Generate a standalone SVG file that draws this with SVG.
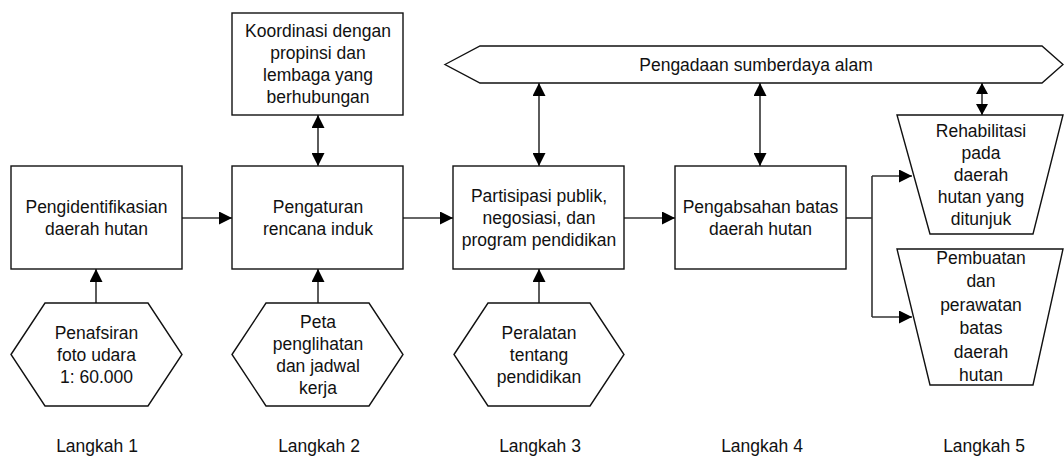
<svg xmlns="http://www.w3.org/2000/svg" width="1064" height="467" viewBox="0 0 1064 467">
<style>
.s{fill:#fff;stroke:#111;stroke-width:1.4}
.t{font-family:"Liberation Sans",Arial,sans-serif;font-size:17.5px;fill:#111;text-anchor:middle}
.c{fill:none;stroke:#333;stroke-width:1.6}
</style>
<defs>
<marker id="a" markerUnits="userSpaceOnUse" markerWidth="14" markerHeight="13" refX="13" refY="6.5" orient="auto-start-reverse">
<path d="M0,0 L13,6.5 L0,13 z" fill="#000"/>
</marker>
<marker id="b" markerUnits="userSpaceOnUse" markerWidth="12" markerHeight="12" refX="11" refY="6" orient="auto-start-reverse">
<path d="M0,0 L11,6 L0,12 z" fill="#000"/>
</marker>
</defs>
<rect width="1064" height="467" fill="#fff"/>
<g id="connectors">
<line class="c" x1="182" y1="218" x2="232" y2="218" marker-end="url(#a)"/>
<line class="c" x1="403" y1="218" x2="453" y2="218" marker-end="url(#a)"/>
<line class="c" x1="624" y1="218" x2="675" y2="218" marker-end="url(#a)"/>
<polyline class="c" points="846,218 872,218"/>
<polyline class="c" points="872,176 872,317"/>
<line class="c" x1="872" y1="176" x2="912" y2="176" marker-end="url(#a)"/>
<line class="c" x1="872" y1="317" x2="912" y2="317" marker-end="url(#a)"/>
<line class="c" x1="96" y1="303" x2="96" y2="269" marker-end="url(#a)"/>
<line class="c" x1="318" y1="303" x2="318" y2="269" marker-end="url(#a)"/>
<line class="c" x1="539" y1="303" x2="539" y2="269" marker-end="url(#a)"/>
<line class="c" x1="318" y1="115" x2="318" y2="166" marker-start="url(#a)" marker-end="url(#a)"/>
<line class="c" x1="539" y1="83" x2="539" y2="166" marker-start="url(#a)" marker-end="url(#a)"/>
<line class="c" x1="760" y1="83" x2="760" y2="166" marker-start="url(#a)" marker-end="url(#a)"/>
<line class="c" x1="982" y1="83" x2="982" y2="115" marker-start="url(#b)" marker-end="url(#b)"/>
</g>
<g id="banner">
<polygon class="s" points="445,64.5 480,46 1042,46 1063,64.5 1042,83 480,83"/>
<text class="t" x="756" y="70.5">Pengadaan sumberdaya alam</text>
</g>
<g id="koordinasi">
<rect class="s" x="232" y="13" width="171" height="102"/>
<text class="t" x="318" y="37">Koordinasi dengan</text>
<text class="t" x="318" y="59">propinsi dan</text>
<text class="t" x="318" y="81">lembaga yang</text>
<text class="t" x="318" y="103">berhubungan</text>
</g>
<g id="box1">
<rect class="s" x="11" y="166" width="171" height="103"/>
<text class="t" x="96.5" y="212.5">Pengidentifikasian</text>
<text class="t" x="96.5" y="234.5">daerah hutan</text>
</g>
<g id="box2">
<rect class="s" x="232" y="166" width="171" height="103"/>
<text class="t" x="318" y="212.5">Pengaturan</text>
<text class="t" x="318" y="234.5">rencana induk</text>
</g>
<g id="box3">
<rect class="s" x="453" y="166" width="171" height="103"/>
<text class="t" x="539" y="201.5">Partisipasi publik,</text>
<text class="t" x="539" y="223.5">negosiasi, dan</text>
<text class="t" x="539" y="245.5">program pendidikan</text>
</g>
<g id="box4">
<rect class="s" x="675" y="166" width="171" height="103"/>
<text class="t" x="760.5" y="212.5">Pengabsahan batas</text>
<text class="t" x="760.5" y="234.5">daerah hutan</text>
</g>
<g id="hex1">
<polygon class="s" points="11,354.5 45,303 148,303 182,354.5 148,406 45,406"/>
<text class="t" x="96.5" y="338.5">Penafsiran</text>
<text class="t" x="96.5" y="360.5">foto udara</text>
<text class="t" x="96.5" y="382.5">1: 60.000</text>
</g>
<g id="hex2">
<polygon class="s" points="232,354.5 266,303 369,303 403,354.5 369,406 266,406"/>
<text class="t" x="318" y="327.5">Peta</text>
<text class="t" x="318" y="349.5">penglihatan</text>
<text class="t" x="318" y="371.5">dan jadwal</text>
<text class="t" x="318" y="393.5">kerja</text>
</g>
<g id="hex3">
<polygon class="s" points="454,354.5 488,303 590,303 624,354.5 590,406 488,406"/>
<text class="t" x="539" y="338.5">Peralatan</text>
<text class="t" x="539" y="360.5">tentang</text>
<text class="t" x="539" y="382.5">pendidikan</text>
</g>
<g id="trap1">
<polygon class="s" points="897,115 1063,115 1033,234 930,234"/>
<text class="t" x="981" y="136.5">Rehabilitasi</text>
<text class="t" x="981" y="158.5">pada</text>
<text class="t" x="981" y="180.5">daerah</text>
<text class="t" x="981" y="202.5">hutan yang</text>
<text class="t" x="981" y="224.5">ditunjuk</text>
</g>
<g id="trap2">
<polygon class="s" points="897,249 1063,249 1033,385 930,385"/>
<text class="t" x="981" y="264">Pembuatan</text>
<text class="t" x="981" y="287.4">dan</text>
<text class="t" x="981" y="310.8">perawatan</text>
<text class="t" x="981" y="334.2">batas</text>
<text class="t" x="981" y="357.6">daerah</text>
<text class="t" x="981" y="381">hutan</text>
</g>
<g id="labels">
<text class="t" x="97" y="452">Langkah 1</text>
<text class="t" x="319" y="452">Langkah 2</text>
<text class="t" x="540" y="452">Langkah 3</text>
<text class="t" x="762" y="452">Langkah 4</text>
<text class="t" x="984" y="452">Langkah 5</text>
</g>
</svg>
